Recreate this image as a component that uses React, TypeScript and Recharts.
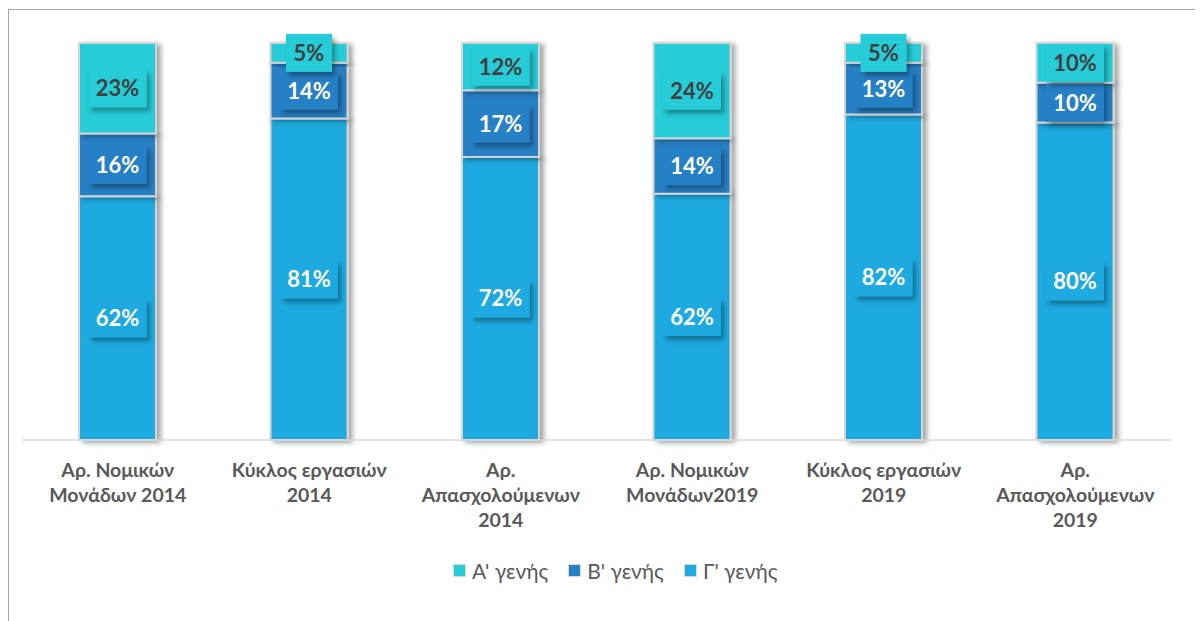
import React from "react";
import { BarChart, Bar, XAxis, YAxis, LabelList } from "recharts";

const categories = [
  "Αρ. Νομικών\nΜονάδων 2014",
  "Κύκλος εργασιών\n2014",
  "Αρ.\nΑπασχολούμενων\n2014",
  "Αρ. Νομικών\nΜονάδων2019",
  "Κύκλος εργασιών\n2019",
  "Αρ.\nΑπασχολούμενων\n2019",
];
const genA = [23, 5, 12, 24, 5, 10];
const genB = [16, 14, 17, 14, 13, 10];
const genC = [62, 81, 72, 62, 82, 80];
const seriesNames = ["Α' γενής", "Β' γενής", "Γ' γενής"];
const colorA = "#27CCD7";
const colorB = "#2880C5";
const colorC = "#1FAAE1";

const data = categories.map((c, i) => ({ name: c, a: genA[i], b: genB[i], c: genC[i] }));

const FONT = "Lato, 'Open Sans', sans-serif";

const makeLabel = (values: number[], fill: string, textColor: string) => (props: any) => {
  const { x, y, width, height, index } = props;
  const v = values[index];
  const txt = `${v}%`;
  const w = txt.length > 2 ? 58 : 46;
  const cx = Number(x) + Number(width) / 2;
  const cy = Number(y) + Number(height) / 2;
  return (
    <g>
      <rect x={cx - w / 2} y={cy - 19} width={w} height={38} fill={fill} filter="url(#lblShadow)" />
      <text
        x={cx}
        y={cy + 8}
        textAnchor="middle"
        fill={textColor}
        fontFamily={FONT}
        fontWeight={700}
        fontSize={22}
      >
        {txt}
      </text>
    </g>
  );
};

const CatTick = (props: any) => {
  const { x, y, payload } = props;
  const lines = String(payload.value).split("\n");
  return (
    <g>
      {lines.map((l, i) => (
        <text
          key={i}
          x={x}
          y={y + 37 + i * 25}
          textAnchor="middle"
          fill="#595959"
          fontFamily={FONT}
          fontWeight={700}
          fontSize={19.5}
        >
          {l}
        </text>
      ))}
    </g>
  );
};

const legendItems = [
  { name: seriesNames[0], color: colorA },
  { name: seriesNames[1], color: colorB },
  { name: seriesNames[2], color: colorC },
];

export default function App() {
  return (
    <div style={{ position: "relative", width: 1195, height: 613, background: "#fff" }}>
      <div
        style={{
          position: "absolute",
          left: 0,
          top: 1,
          width: 1195,
          height: 612,
          borderTop: "1.5px solid #a6a6a6",
          borderLeft: "1.5px solid #a6a6a6",
          boxSizing: "border-box",
        }}
      />
      <div style={{ position: "absolute", left: 0, top: 0 }}>
        <BarChart
          width={1195}
          height={613}
          data={data}
          stackOffset="expand"
          margin={{ top: 35, right: 32, bottom: 81, left: 14 }}
        >
          <defs>
            <filter id="barShadow" x="-20%" y="-20%" width="140%" height="140%">
              <feDropShadow dx="4" dy="2" stdDeviation="2.5" floodColor="#000" floodOpacity="0.35" />
            </filter>
            <filter id="lblShadow" x="-30%" y="-30%" width="160%" height="180%">
              <feDropShadow dx="3" dy="4" stdDeviation="2.5" floodColor="#000" floodOpacity="0.35" />
            </filter>
          </defs>
          <XAxis
            dataKey="name"
            interval={0}
            tickLine={false}
            tickSize={0}
            tickMargin={0}
            height={100}
            axisLine={{ stroke: "#d9d9d9", strokeWidth: 1.5 }}
            tick={<CatTick />}
          />
          <YAxis hide domain={[0, 1]} />
          <Bar dataKey="c" name={seriesNames[2]} stackId="s" fill={colorC} stroke="#d4d4d4" strokeWidth={2} barSize={77} isAnimationActive={false} filter="url(#barShadow)">
            <LabelList dataKey="c" content={makeLabel(genC, colorC, "#ffffff")} />
          </Bar>
          <Bar dataKey="b" name={seriesNames[1]} stackId="s" fill={colorB} stroke="#d4d4d4" strokeWidth={2} barSize={77} isAnimationActive={false} filter="url(#barShadow)">
            <LabelList dataKey="b" content={makeLabel(genB, colorB, "#ffffff")} />
          </Bar>
          <Bar dataKey="a" name={seriesNames[0]} stackId="s" fill={colorA} stroke="#d4d4d4" strokeWidth={2} barSize={77} isAnimationActive={false} filter="url(#barShadow)">
            <LabelList dataKey="a" content={makeLabel(genA, colorA, "#404040")} />
          </Bar>
        </BarChart>
      </div>
      <div
        style={{
          position: "absolute",
          top: 550,
          left: 445,
          display: "flex",
          alignItems: "center",
          fontFamily: FONT,
          fontSize: 21,
          color: "#595959",
          whiteSpace: "nowrap",
        }}
      >
        {legendItems.map((it, i) => (
          <div key={i} style={{ display: "flex", alignItems: "center", marginRight: i < 2 ? 20 : 0 }}>
            <span
              style={{
                display: "inline-block",
                width: 11,
                height: 11,
                background: it.color,
                border: "1.5px solid #d9d9d9",
                marginRight: 6,
              }}
            />
            <span>{it.name}</span>
          </div>
        ))}
      </div>
    </div>
  );
}
